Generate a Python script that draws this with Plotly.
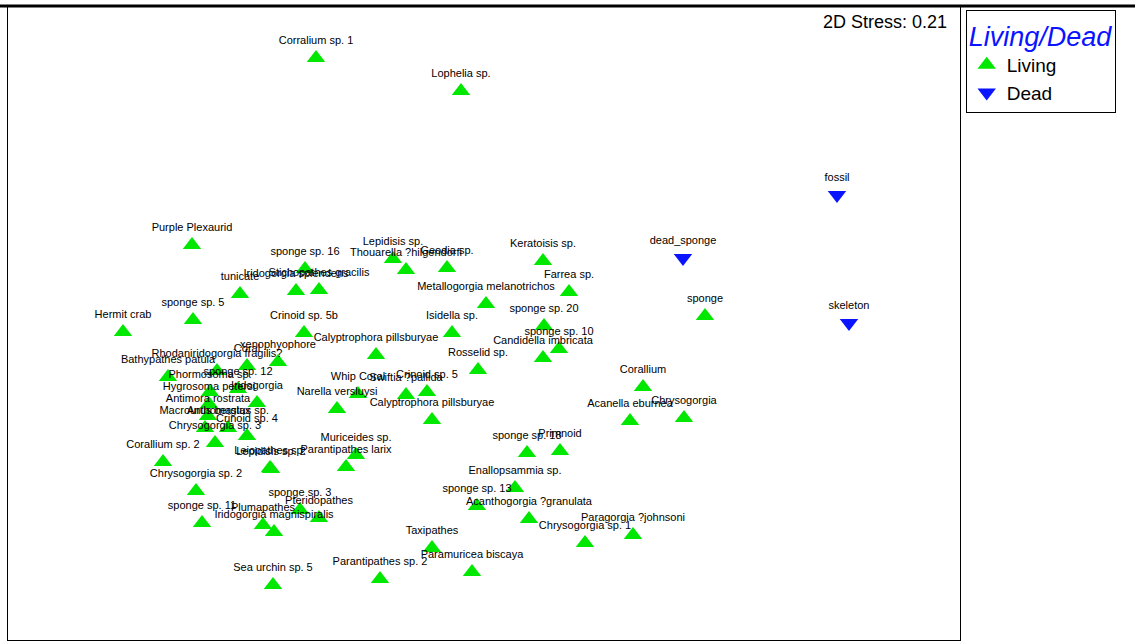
import plotly.graph_objects as go

# MDS ordination coordinates (2D) for each taxon
living_names = [
    "Corralium sp. 1", "Lophelia sp.", "Purple Plexaurid", "Lepidisis sp.",
    "Thouarella ?hilgendorfi", "Geodia sp.", "Keratoisis sp.", "Farrea sp.",
    "Metallogorgia melanotrichos", "sponge sp. 20", "sponge sp. 10",
    "Candidella imbricata", "Isidella sp.", "Rosselid sp.",
    "Calyptrophora pillsburyae", "Crinoid sp. 5b", "sponge sp. 16",
    "Iridogorgia splendens", "Stichopathes gracilis", "tunicate", "sponge sp. 5",
    "Hermit crab", "sponge", "xenophyophore", "Coral", "Bathypathes patula",
    "Rhodaniridogorgia fragilis?", "sponge sp. 12", "Phormosoma sp.",
    "Hygrosoma petersi", "Iridogorgia", "Antimora rostrata", "Macrourus berglax",
    "Anthomastus sp.", "Crinoid sp. 4", "Chrysogorgia sp. 3", "Corallium sp. 2",
    "Lepidisis sp. 2", "Leiopathes sp.", "Whip Coral", "Swiftia ?pallida",
    "Crinoid sp. 5", "Narella versluysi", "Calyptrophora pillsburyae",
    "Muriceides sp.", "Parantipathes larix", "Chrysogorgia sp. 2",
    "sponge sp. 11", "Plumapathes", "Iridogorgia magnispiralis", "sponge sp. 3",
    "Pteridopathes", "Sea urchin sp. 5", "Parantipathes sp. 2",
    "Paramuricea biscaya", "Taxipathes", "Acanthogorgia ?granulata",
    "sponge sp. 13", "Enallopsammia sp.", "sponge sp. 18", "Primnoid",
    "Chrysogorgia sp. 1", "Paragorgia ?johnsoni", "Corallium",
    "Acanella eburnea", "Chrysogorgia",
]
living_x = [
    -1.68, -0.23, -2.92, -0.91, -0.78, -0.37, 0.59, 0.85, 0.02, 0.60, 0.75,
    0.59, -0.32, -0.06, -1.08, -1.80, -1.79, -1.88, -1.65, -2.44, -2.91,
    -3.61, 2.21, -2.06, -2.37, -3.16, -2.67, -2.46, -2.74, -2.75, -2.27,
    -2.76, -2.79, -2.56, -2.37, -2.69, -3.21, -2.13, -2.14, -1.26, -0.78,
    -0.57, -1.47, -0.52, -1.28, -1.38, -2.88, -2.82, -2.21, -2.10, -1.84,
    -1.65, -2.11, -1.04, -0.12, -0.52, 0.45, -0.07, 0.31, 0.43, 0.76,
    1.01, 1.49, 1.59, 1.46, 2.00,
]
living_y = [
    2.66, 2.33, 0.79, 0.65, 0.54, 0.56, 0.63, 0.32, 0.20, -0.02, -0.25,
    -0.34, -0.09, -0.46, -0.31, -0.09, 0.55, 0.33, 0.34, 0.30, 0.04,
    -0.08, 0.08, -0.38, -0.42, -0.53, -0.47, -0.65, -0.68, -0.80, -0.79,
    -0.92, -1.04, -1.04, -1.12, -1.19, -1.38, -1.45, -1.44, -0.70, -0.71,
    -0.68, -0.85, -0.96, -1.31, -1.43, -1.67, -1.99, -2.01, -2.08, -1.86,
    -1.94, -2.61, -2.55, -2.48, -2.24, -1.95, -1.82, -1.64, -1.29, -1.27,
    -2.19, -2.11, -0.63, -0.97, -0.94,
]

dead_names = ["fossil", "dead_sponge", "skeleton"]
dead_x = [3.53, 1.99, 3.65]
dead_y = [1.29, 0.66, 0.01]

stress = 0.21

FONT = "Liberation Sans, Arial, sans-serif"
GREEN = "#00e800"
BLUE = "#0a14ff"

fig = go.Figure()
fig.add_trace(go.Scatter(
    x=living_x, y=living_y, text=living_names, name="Living",
    mode="markers+text", textposition="top center",
    textfont=dict(family=FONT, size=11, color="black"),
    marker=dict(symbol="triangle-up", size=16, color=GREEN, line=dict(width=0)),
    hoverinfo="text",
))
fig.add_trace(go.Scatter(
    x=dead_x, y=dead_y, text=dead_names, name="Dead",
    mode="markers+text", textposition="top center",
    textfont=dict(family=FONT, size=11, color="black"),
    marker=dict(symbol="triangle-down", size=16, color=BLUE, line=dict(width=0)),
    hoverinfo="text",
))

axis_common = dict(
    showgrid=False, zeroline=False, showticklabels=False, ticks="",
    showline=True, mirror=True, linecolor="black", linewidth=1,
    fixedrange=True,
)

fig.update_layout(
    width=1135, height=642,
    margin=dict(l=8, r=175, t=6, b=2),
    paper_bgcolor="white", plot_bgcolor="white",
    xaxis=dict(range=[-4.76, 4.76], **axis_common),
    yaxis=dict(range=[-3.16, 3.18], **axis_common),
    showlegend=True,
    legend=dict(
        x=1.006, y=0.994, xanchor="left", yanchor="top",
        bordercolor="black", borderwidth=1, bgcolor="white",
        font=dict(family=FONT, size=19, color="black"),
        title=dict(text="Living/Dead",
                   font=dict(family=FONT, size=27, color=BLUE, style="italic")),
        itemsizing="trace", itemwidth=30, tracegroupgap=0,
    ),
    annotations=[dict(
        text=f"2D Stress: {stress:.2f}", xref="paper", yref="paper",
        x=0.988, y=0.975, xanchor="right", yanchor="middle", showarrow=False,
        font=dict(family=FONT, size=18, color="black"),
    )],
    shapes=[dict(
        type="line", xref="paper", yref="paper",
        x0=-0.009, x1=1.19, y0=1.0, y1=1.0,
        line=dict(color="black", width=3),
    )],
)

fig.write_html("out.html")
